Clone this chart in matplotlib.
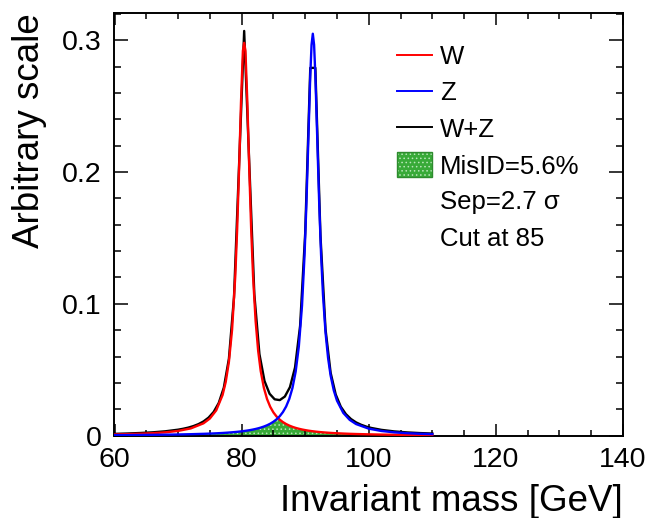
import matplotlib
matplotlib.use("Agg")
import matplotlib.pyplot as plt
import numpy as np
from matplotlib.lines import Line2D
from matplotlib.patches import Rectangle
from matplotlib.ticker import MultipleLocator

plt.rcParams['font.family'] = ['Liberation Sans', 'DejaVu Sans']
plt.rcParams['hatch.linewidth'] = 0.6

# ---- data ----
mass = [60, 62, 64, 66, 68, 70, 72, 74, 75, 76, 77, 77.5, 78, 78.5, 79, 79.3, 79.6,
        79.9, 80.2, 80.4, 80.6, 80.9, 81.2, 81.5, 81.8, 82.2, 82.6, 83.0, 83.5, 84,
        84.5, 85, 85.5, 86, 86.5, 87, 87.5, 88, 88.5, 89, 89.5, 89.9, 90.2, 90.5,
        90.8, 91.0, 91.2, 91.4, 91.6, 91.9, 92.2, 92.5, 92.8, 93.2, 93.6, 94, 94.5,
        95, 96, 97, 98, 100, 102, 104, 106, 108, 110]
w_vals = [0.00095, 0.00117, 0.00147, 0.00190, 0.00256, 0.00363, 0.00552, 0.00939,
          0.01302, 0.01920, 0.03082, 0.04080, 0.05607, 0.08053, 0.1210, 0.1569,
          0.2025, 0.2528, 0.2919, 0.2980, 0.2919, 0.2528, 0.2025, 0.1569, 0.1210,
          0.08706, 0.06445, 0.04913, 0.03632, 0.02780, 0.02190, 0.01766, 0.01453,
          0.01215, 0.01030, 0.00885, 0.00767, 0.00672, 0.00593, 0.00527, 0.00472,
          0.00434, 0.00408, 0.00384, 0.00363, 0.00349, 0.00337, 0.00325, 0.00313,
          0.00297, 0.00282, 0.00269, 0.00256, 0.00240, 0.00226, 0.00213, 0.00198,
          0.00185, 0.00162, 0.00143, 0.00128, 0.00103, 0.00085, 0.00071, 0.00060,
          0.00052, 0.00045]
z_vals = [0.00043, 0.00049, 0.00057, 0.00066, 0.00078, 0.00093, 0.00114, 0.00142,
          0.00160, 0.00181, 0.00207, 0.00223, 0.00240, 0.00259, 0.00280, 0.00294,
          0.00310, 0.00326, 0.00344, 0.00357, 0.00370, 0.00392, 0.00415, 0.00441,
          0.00469, 0.00511, 0.00559, 0.00614, 0.00694, 0.00791, 0.00910, 0.01057,
          0.01243, 0.01481, 0.01794, 0.02213, 0.02794, 0.03623, 0.04856, 0.06768,
          0.09859, 0.1371, 0.1769, 0.2251, 0.2734, 0.2965, 0.3049, 0.2965, 0.2734,
          0.2251, 0.1769, 0.1371, 0.1069, 0.07825, 0.05896, 0.04566, 0.03431,
          0.02661, 0.01724, 0.01202, 0.00884, 0.00534, 0.00357, 0.00255, 0.00191,
          0.00148, 0.00119]
sum_mass = [60, 62, 64, 66, 68, 70, 70.8, 71.6, 72.4, 73.2, 74.0, 74.8, 75.6, 76.4,
            77.2, 78.0, 78.8, 79.6, 80.4, 81.2, 82.0, 82.8, 83.6, 84.4, 85.2, 86.0,
            86.8, 87.6, 88.4, 89.2, 90.0, 90.8, 91.6, 92.4, 93.2, 94.0, 94.8, 95.6,
            96.4, 97.2, 98.0, 98.8, 99.6, 100.4, 102, 104, 106, 108, 110]
sum_vals = [0.00138, 0.00166, 0.00204, 0.00256, 0.00334, 0.00456, 0.00526, 0.00613,
            0.00727, 0.00876, 0.01081, 0.01371, 0.01802, 0.02483, 0.03647, 0.05847,
            0.1050, 0.2056, 0.3070, 0.2067, 0.1072, 0.0619, 0.0415, 0.0318, 0.0276,
            0.0270, 0.0297, 0.0368, 0.0517, 0.0833, 0.1535, 0.2790, 0.2790, 0.1520,
            0.0807, 0.0478, 0.0313, 0.0220, 0.0164, 0.01266, 0.0101, 0.00829,
            0.00692, 0.00588, 0.00442, 0.00326, 0.00251, 0.00200, 0.00164]
cut = 85
legend_labels = ["W", "Z", "W+Z", "MisID=5.6%"]
extra_text = ["Sep=2.7 σ", "Cut at 85"]
x_ticks = [60, 80, 100, 120, 140]
y_ticks = [0, 0.1, 0.2, 0.3]
y_tick_labels = ["0", "0.1", "0.2", "0.3"]

W_PX, H_PX = 654, 518
fig = plt.figure(figsize=(W_PX / 100, H_PX / 100), dpi=100)
ax_l, ax_r, ax_t, ax_b = 114.5, 623.0, 12.5, 435.7
ax = fig.add_axes([ax_l / W_PX, 1 - ax_b / H_PX, (ax_r - ax_l) / W_PX, (ax_b - ax_t) / H_PX])

m = np.array(mass)
wv = np.array(w_vals)
zv = np.array(z_vals)
fill_top = np.minimum(wv, zv)

green = '#38aa38'
ax.fill_between(m, 0, fill_top, facecolor=green, edgecolor='#b8e6b8', hatch='....',
                linewidth=0, zorder=1)
ax.plot(sum_mass, sum_vals, color='black', lw=1.7, zorder=2)
ax.plot(m, wv, color='#ff0000', lw=1.7, zorder=3)
ax.plot(m, zv, color='#0000ff', lw=1.7, zorder=4)

ax.set_xlim(60, 140)
ax.set_ylim(0, 0.321)
ax.set_xticks(x_ticks)
ax.set_yticks(y_ticks)
ax.set_yticklabels(y_tick_labels)
ax.xaxis.set_minor_locator(MultipleLocator(5))
ax.yaxis.set_minor_locator(MultipleLocator(0.02))
for s in ax.spines.values():
    s.set_linewidth(1.4)
ax.tick_params(axis='both', which='both', direction='in', top=True, right=True, width=1.1)
ax.tick_params(axis='x', which='major', length=8.5, labelsize=20.5, pad=8)
ax.tick_params(axis='x', which='minor', length=4.3)
ax.tick_params(axis='y', which='major', length=10, labelsize=20.5, pad=9)
ax.tick_params(axis='y', which='minor', length=5)

fig.text(623 / W_PX, 1 - 511 / H_PX, 'Invariant mass [GeV]', ha='right', va='baseline',
         fontsize=26.5)
fig.text(39.5 / W_PX, 1 - 13 / H_PX, 'Arbitrary scale', rotation=90, rotation_mode='anchor',
         ha='right', va='baseline', fontsize=26.5)

def fx(px):
    return px / W_PX

def fy(py):
    return 1 - py / H_PX

rows = [54.5, 91, 127, 164, 200, 237]
line_colors = ['#ff0000', '#0000ff', 'black']
for i, c in enumerate(line_colors):
    fig.add_artist(Line2D([fx(397), fx(432)], [fy(rows[i]), fy(rows[i])], color=c, lw=1.4))
fig.add_artist(Rectangle((fx(397), fy(177)), fx(432) - fx(397), fy(152) - fy(177),
                         transform=fig.transFigure, facecolor=green, edgecolor='#b8e6b8',
                         hatch='....', linewidth=0))
fig.add_artist(Rectangle((fx(397), fy(177)), fx(432) - fx(397), fy(152) - fy(177),
                         transform=fig.transFigure, facecolor='none', edgecolor='#2e8b2e',
                         linewidth=1.0))
for i, lab in enumerate(legend_labels + extra_text):
    fig.text(fx(440), fy(rows[i]), lab, ha='left', va='center_baseline', fontsize=18.5)

fig.savefig('out.png', dpi=100)
